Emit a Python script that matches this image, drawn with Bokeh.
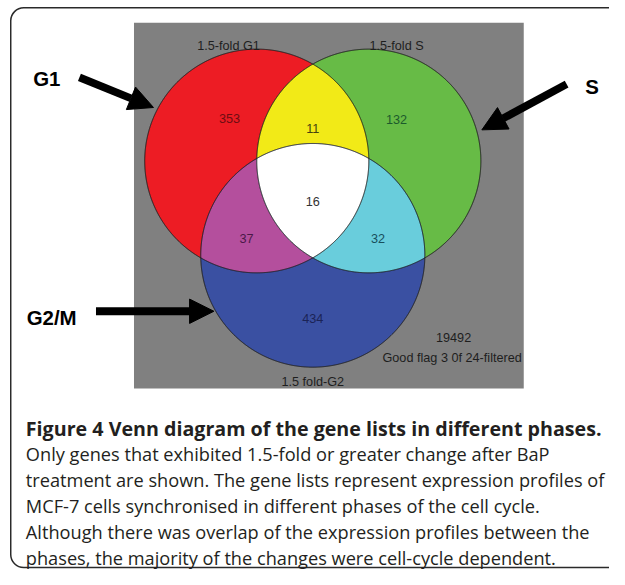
import numpy as np
from bokeh.plotting import figure
from bokeh.models import Range1d, Arrow, NormalHead, ColumnDataSource
from bokeh.core.properties import value
from bokeh.embed import file_html
from bokeh.resources import INLINE

# ---------------- data ----------------
set_names = ["1.5-fold G1", "1.5-fold S", "1.5 fold-G2"]
phase_labels = ["G1", "S", "G2/M"]
region_keys = ["G1", "S", "G2", "G1&S", "G1&G2", "S&G2", "G1&S&G2"]
region_counts = [353, 132, 434, 11, 37, 32, 16]
total_genes = 19492
filter_note = "Good flag 3 0f 24-filtered"
caption_title = "Figure 4 Venn diagram of the gene lists in different phases."
caption_lines = [
    "Only genes that exhibited 1.5-fold or greater change after BaP",
    "treatment are shown. The gene lists represent expression profiles of",
    "MCF-7 cells synchronised in different phases of the cell cycle.",
    "Although there was overlap of the expression profiles between the",
    "phases, the majority of the changes were cell-cycle dependent.",
]

# ---------------- layout / style ----------------
W, H = 609, 569            # plot size in screen px (fits 625x585 window with 8px margins)
REF_W, REF_H = 625, 585    # drawing coordinate space
K = 0.5 * (W / REF_W + H / REF_H)   # px per drawing unit


def fs(px):
    return f"{px * K:.2f}px"


centers = [(263.0, 165.0), (378.0, 165.0), (320.5, 262.0)]
R = 115.0
set_fill = ["#ED1C24", "#67BB46", "#3A50A2"]
pair_fill = {(0, 1): "#F2EA17", (0, 2): "#B44F9D", (1, 2): "#69CDDC"}
triple_fill = "#FFFFFF"
count_pos = {"G1": (235, 121.5), "S": (406.5, 122), "G2": (320.5, 326.5),
             "G1&S": (320.5, 131.5), "G1&G2": (252.5, 244.5),
             "S&G2": (387.5, 244.5), "G1&S&G2": (320.5, 207)}
count_color = {"G1": "#6d0d12", "S": "#1c5a2c", "G2": "#1b2356",
               "G1&S": "#45420f", "G1&G2": "#4a1948", "S&G2": "#184f5c",
               "G1&S&G2": "#333333"}
set_label_pos = [(234, 46.3), (406.5, 46.3), (320.5, 392.7)]
phase_label_pos = [(47.5, 80), (607, 88), (52.5, 326)]
arrows = [((81, 79), (157, 110)), ((581, 86), (494, 133)), ((98, 319.5), (219, 319.5))]
cap_x = 26
cap_title_y = 440
cap_line0_y = 466.7
cap_dy = 26.67

p = figure(width=W, height=H, x_range=Range1d(0, REF_W), y_range=Range1d(REF_H, 0),
           x_axis_type=None, y_axis_type=None, output_backend="svg",
           toolbar_location=None, min_border=0)
p.outline_line_color = None
p.background_fill_color = "white"
p.border_fill_color = "white"

# outer rounded frame
p.quad(left=[10.5], right=[660], top=[7.5], bottom=[583], fill_color=None,
       line_color="#2a2a2a", line_width=1.5, border_radius=13)
# grey panel
p.quad(left=[137], right=[537], top=[23], bottom=[399], fill_color="#808080",
       line_color=None)


def circle_pts(c, n=1440):
    t = np.linspace(0, 2 * np.pi, n, endpoint=False)
    return np.c_[c[0] + R * np.cos(t), c[1] + R * np.sin(t)]


def convex_intersection(idx):
    pts = []
    for i in idx:
        cp = circle_pts(centers[i])
        keep = np.ones(len(cp), bool)
        for j in idx:
            if j != i:
                d = np.hypot(cp[:, 0] - centers[j][0], cp[:, 1] - centers[j][1])
                keep &= d <= R + 1e-6
        pts.append(cp[keep])
    pts = np.vstack(pts)
    c = pts.mean(axis=0)
    order = np.argsort(np.arctan2(pts[:, 1] - c[1], pts[:, 0] - c[0]))
    pts = pts[order]
    return list(pts[:, 0]), list(pts[:, 1])


xs, ys, fills = [], [], []
for i in range(3):
    x, y = convex_intersection([i])
    xs.append(x); ys.append(y); fills.append(set_fill[i])
for (a, b), col in pair_fill.items():
    x, y = convex_intersection([a, b])
    xs.append(x); ys.append(y); fills.append(col)
x, y = convex_intersection([0, 1, 2])
xs.append(x); ys.append(y); fills.append(triple_fill)
p.patches(xs=xs, ys=ys, fill_color=fills, line_color=None)

# circle outlines
p.patches(xs=xs[:3], ys=ys[:3], fill_color=None, line_color="#1e1e1e", line_width=1)

# counts
src = ColumnDataSource(dict(
    x=[count_pos[k][0] for k in region_keys],
    y=[count_pos[k][1] for k in region_keys],
    t=[str(v) for v in region_counts],
    c=[count_color[k] for k in region_keys]))
p.text(x="x", y="y", text="t", text_color="c", source=src, text_align="center",
       text_baseline="alphabetic", text_font=value("Liberation Sans"),
       text_font_size=fs(13))

# set names
p.text(x=[q[0] for q in set_label_pos], y=[q[1] for q in set_label_pos], text=set_names,
       text_align="center", text_baseline="alphabetic", text_color="#1e1e1e",
       text_font=value("Liberation Sans"), text_font_size=fs(13))
p.text(x=[465, 463.5], y=[346.3, 367.3], text=[str(total_genes), filter_note],
       text_align="center", text_baseline="alphabetic", text_color="#1e1e1e",
       text_font=value("Liberation Sans"), text_font_size=fs(13))

# phase labels + arrows
p.text(x=[q[0] for q in phase_label_pos], y=[q[1] for q in phase_label_pos],
       text=phase_labels, text_align="center", text_baseline="alphabetic",
       text_color="black", text_font=value("Liberation Sans"),
       text_font_size=fs(21), text_font_style="bold")
for (s, e) in arrows:
    p.add_layout(Arrow(end=NormalHead(size=25 * K, fill_color="black", line_color="black",
                                      line_width=1),
                       x_start=s[0], y_start=s[1], x_end=e[0], y_end=e[1],
                       line_width=8 * K, line_color="black"))

# caption
p.text(x=[cap_x], y=[cap_title_y], text=[caption_title], text_align="left",
       text_baseline="alphabetic", text_color="#231f20",
       text_font=value("Open Sans"), text_font_size=fs(20.2), text_font_style="bold")
p.text(x=[cap_x] * len(caption_lines),
       y=[cap_line0_y + cap_dy * i for i in range(len(caption_lines))],
       text=caption_lines, text_align="left", text_baseline="alphabetic",
       text_color="#231f20", text_font=value("Open Sans"), text_font_size=fs(18.7))

open("out.html", "w").write(file_html(p, INLINE))
